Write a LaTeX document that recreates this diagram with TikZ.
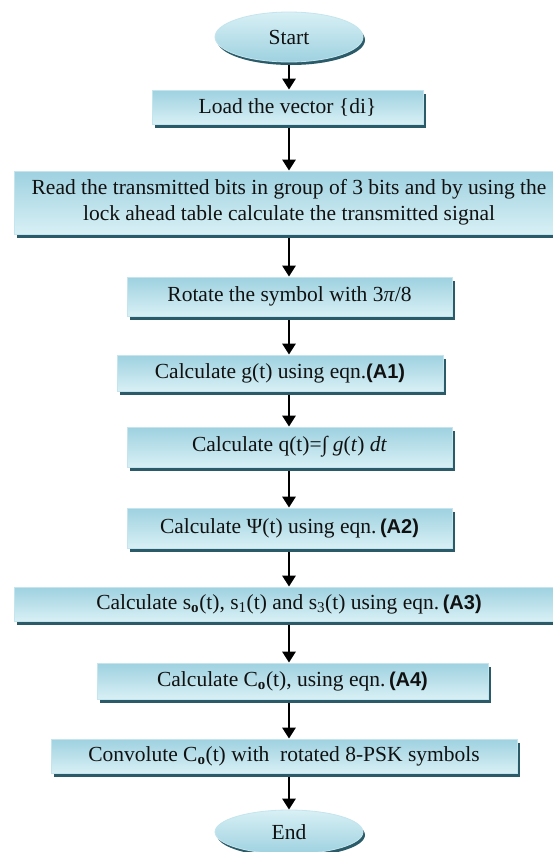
\documentclass[tikz,border=0pt]{standalone}
\usepackage{fontspec}
\setmainfont{Liberation Serif}
\newfontfamily\eqnsans{Liberation Sans}
\usetikzlibrary{shapes.geometric,shadows,arrows.meta}

\definecolor{boxtop}{HTML}{9ED1E0}
\definecolor{boxbot}{HTML}{D8F0F5}
\definecolor{boxedge}{HTML}{C4E5EE}
\definecolor{shadowteal}{HTML}{2B5B68}
\definecolor{ink}{HTML}{111111}

\newcommand\boxfont{\fontsize{21.5}{26}\selectfont}
\newcommand\eqntag[1]{{\eqnsans\bfseries\fontsize{20}{26}\selectfont(#1)}}

\tikzset{
  stepbox/.style={rectangle, draw=boxedge, line width=0.8pt,
    top color=boxtop, bottom color=boxbot,
    drop shadow={shadow xshift=3pt, shadow yshift=-3.5pt, fill=shadowteal, opacity=1},
    inner sep=0pt, text=ink, font=\boxfont, align=center},
  termbox/.style={ellipse, draw=boxedge, line width=0.8pt,
    top color=boxbot, bottom color=boxtop,
    drop shadow={shadow xshift=2pt, shadow yshift=-3pt, fill=shadowteal, opacity=1},
    inner sep=0pt, text=ink, font=\boxfont},
  flow/.style={-{Triangle[width=13pt,length=11pt]}, line width=2.8pt, black}
}

\begin{document}
\begin{tikzpicture}[x=1pt,y=-1pt]
\useasboundingbox (0,0) rectangle (553,852);
\clip (0,0) rectangle (553,852);
\fill[white] (0,0) rectangle (553,852);

% terminals and process steps
\node[termbox, minimum width=148pt, minimum height=50pt] (start) at (289,37) {Start};
\node[stepbox, minimum width=271pt, minimum height=34pt] (load) at (287.5,107) {Load the vector \{di\}};
\node[stepbox, minimum width=550pt, minimum height=63pt] (read) at (289,202.5)
  {Read the transmitted bits in group of 3 bits and by using the\\lock ahead table calculate the transmitted signal};
\node[stepbox, minimum width=325pt, minimum height=39pt] (rot) at (289.5,296.5) {Rotate the symbol with 3\textit{π}/8};
\node[stepbox, minimum width=326pt, minimum height=36pt] (gt) at (280,373) {Calculate g(t) using eqn.\eqntag{A1}};
\node[stepbox, minimum width=325pt, minimum height=40pt] (qt) at (289.5,447)
  {Calculate q(t)=∫ \textit{g}(\textit{t}) \textit{dt}};
\node[stepbox, minimum width=325pt, minimum height=40pt] (psi) at (289.5,528) {Calculate Ψ(t) using eqn.\,\eqntag{A2}};
\node[stepbox, minimum width=550pt, minimum height=34pt] (st) at (289,604)
  {Calculate s\textsubscript{\textbf{o}}(t), s\textsubscript{1}(t) and s\textsubscript{3}(t) using eqn.\,\eqntag{A3}};
\node[stepbox, minimum width=391pt, minimum height=36pt] (co) at (292.5,681)
  {Calculate C\textsubscript{\textbf{o}}(t), using eqn.\,\eqntag{A4}};
\node[stepbox, minimum width=466pt, minimum height=34pt] (conv) at (284,756)
  {Convolute C\textsubscript{\textbf{o}}(t) with\ \ rotated 8-PSK symbols};
\node[termbox, minimum width=148pt, minimum height=44pt] (stop) at (289,832) {End};

% connectors along the main column
\draw[flow] ([yshift=-3pt]start.south) -- (start.south |- load.north);
\draw[flow] ([yshift=-3.5pt]load.south -| start.south) -- (start.south |- read.north);
\draw[flow] ([yshift=-3.5pt]read.south -| start.south) -- (start.south |- rot.north);
\draw[flow] ([yshift=-3.5pt]rot.south -| start.south) -- (start.south |- gt.north);
\draw[flow] ([yshift=-3.5pt]gt.south -| start.south) -- (start.south |- qt.north);
\draw[flow] ([yshift=-3.5pt]qt.south -| start.south) -- (start.south |- psi.north);
\draw[flow] ([yshift=-3.5pt]psi.south -| start.south) -- (start.south |- st.north);
\draw[flow] ([yshift=-3.5pt]st.south -| start.south) -- (start.south |- co.north);
\draw[flow] ([yshift=-3.5pt]co.south -| start.south) -- (start.south |- conv.north);
\draw[flow] ([yshift=-3.5pt]conv.south -| start.south) -- (start.south |- stop.north);
\end{tikzpicture}
\end{document}
